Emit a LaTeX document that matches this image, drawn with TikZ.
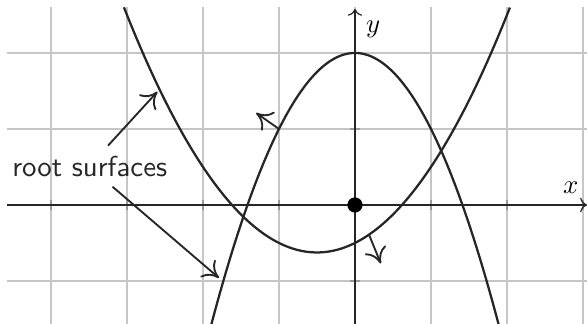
\documentclass[tikz,border=0pt]{standalone}
\usetikzlibrary{arrows.meta}
\begin{document}
\begin{tikzpicture}[
  gridline/.style={gray!45, line width=0.5pt},
  axis/.style={black!85, line width=0.45pt, -{To[length=0.9mm,width=1.9mm]}},
  curve/.style={black!85, line width=0.85pt},
  pointer/.style={black!85, line width=0.7pt, -{To[length=2mm,width=3mm]}},
  tick/.style={gray!80, line width=0.5pt}
]
\useasboundingbox (-4.671,-1.566) rectangle (3.053,2.697);
\draw[gridline] (-4.58,-1.6) grid (3.1,2.61);
% ticks
\foreach \i in {-4,-3,-2,-1,1,2,3} \draw[tick] (\i,-0.06) -- (\i,0.06);
\foreach \j in {-1,1,2} \draw[tick] (-0.06,\j) -- (0.06,\j);
% axes
\coordinate (xs) at (-4.58,0);
\coordinate (xe) at (3.053,0);
\coordinate (ys) at (0,-1.6);
\coordinate (ye) at (0,2.58);
\draw[axis] (xs) -- (xe);
\draw[axis] (ys) -- (ye);
\node (xl) at (2.84,0.22) {$x$};
\node (yl) at (0.24,2.31) {$y$};
% curves
\draw[curve, domain=-3.04:2.04, samples=120, smooth] plot (\x, {(\x*\x+\x-1)/2});
\draw[curve, domain=-1.89:1.89, samples=120, smooth] plot (\x, {2-\x*\x});
% normal arrows
\coordinate (n1s) at (-1,1);
\coordinate (n1e) at (-1.30,1.21);
\coordinate (n2s) at (0.18,-0.38);
\coordinate (n2e) at (0.34,-0.77);
\draw[pointer] (n1s) -- (n1e);
\draw[pointer] (n2s) -- (n2e);
% origin dot
\fill[black] (0,0) circle (0.1);
% label
\node[anchor=base, text=black!85, font=\sffamily\fontsize{10.8}{13}\selectfont, inner sep=0pt] (lbl) at (-3.49,0.37) {root surfaces};
\coordinate (a1s) at (-3.25,0.78);
\coordinate (a1e) at (-2.60,1.49);
\coordinate (a2s) at (-3.19,0.24);
\coordinate (a2e) at (-1.79,-0.96);
\draw[pointer] (a1s) -- (a1e);
\draw[pointer] (a2s) -- (a2e);
\end{tikzpicture}
\end{document}
